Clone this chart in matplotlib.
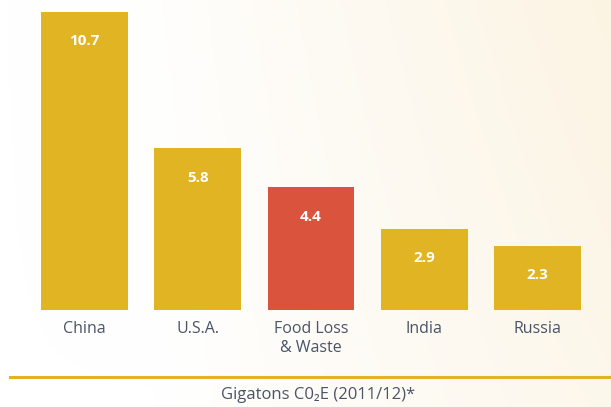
import numpy as np
import matplotlib
matplotlib.use('Agg')
import matplotlib.pyplot as plt
from matplotlib.colors import LinearSegmentedColormap

categories = ['China', 'U.S.A.', 'Food Loss\n& Waste', 'India', 'Russia']
values = [10.7, 5.8, 4.4, 2.9, 2.3]
highlight = 'Food Loss\n& Waste'
axis_title = 'Gigatons C0₂E (2011/12)*'

gold = '#E0B422'
red = '#D9533D'
text_gray = '#4A5468'

plt.rcParams['font.family'] = ['Open Sans', 'DejaVu Sans']

fig = plt.figure(figsize=(6.11, 4.07), dpi=100)

# soft cream gradient background
bg = fig.add_axes([0, 0, 1, 1], zorder=0)
xx, yy = np.meshgrid(np.linspace(0, 1, 300), np.linspace(0, 1, 200))
grad = np.clip((xx - 0.25) / 0.75, 0, 1) * 0.7 + (1 - yy) * 0.3 * xx
cmap = LinearSegmentedColormap.from_list('cream', ['#FFFFFF', '#FCF4E3'])
bg.imshow(grad, cmap=cmap, aspect='auto', extent=[0, 1, 0, 1], origin='upper')
bg.set_xlim(0, 1)
bg.set_ylim(0, 1)
bg.axis('off')

ax = fig.add_axes([0, 97 / 407, 1, 310 / 407], zorder=1)
ax.patch.set_alpha(0)
x = np.arange(len(categories))
colors = [red if c == highlight else gold for c in categories]
ax.bar(x, values, width=0.768, color=colors)

for xi, v in zip(x, values):
    ax.text(xi, v - 1.05, f'{v}', ha='center', va='center', color='white',
            fontsize=11, fontweight='bold')

ax.set_xlim(-0.746, 4.649)
ax.set_ylim(0, 11.13)
ax.set_xticks(x)
ax.set_xticklabels(categories, fontsize=11.5, color=text_gray, linespacing=1.2, va='top')
ax.tick_params(axis='x', length=0, pad=8)
ax.set_yticks([])
for s in ax.spines.values():
    s.set_visible(False)

# gold rule and axis caption
fig.add_artist(plt.Line2D([10 / 611, 1], [1 - 377 / 407, 1 - 377 / 407],
                          color=gold, lw=2.2))
fig.text(318 / 611, 1 - 395 / 407, axis_title, ha='center', va='center',
         fontsize=12, color=text_gray)

fig.savefig('out.png', dpi=100)
